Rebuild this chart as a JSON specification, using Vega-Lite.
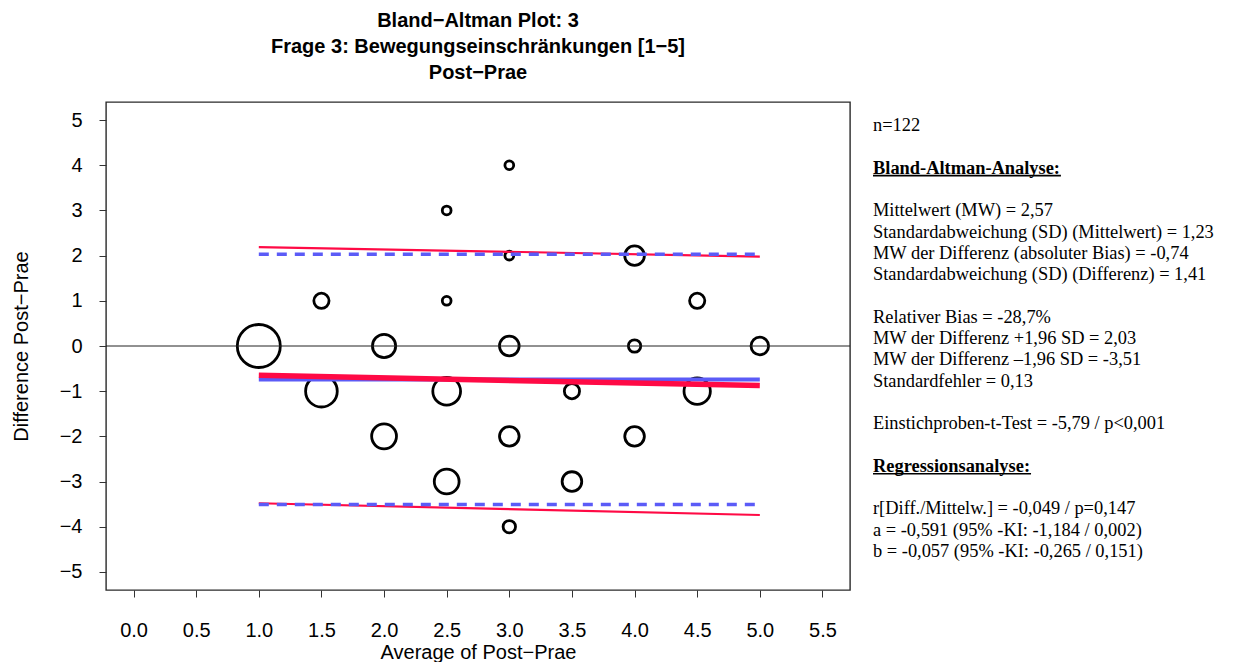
{
  "$schema": "https://vega.github.io/schema/vega-lite/v6.json",
  "padding": {"left": 10, "top": 10, "right": 0, "bottom": 0},
  "background": "white",
  "spacing": 23,
  "bounds": "flush",
  "config": {"view": {"stroke": null}, "font": "Liberation Sans"},
  "datasets": {
    "points": [
      {"average": 1.0, "difference": 0, "n": 24},
      {"average": 1.5, "difference": 1, "n": 3},
      {"average": 1.5, "difference": -1, "n": 13},
      {"average": 2.0, "difference": 0, "n": 7},
      {"average": 2.0, "difference": -2, "n": 8},
      {"average": 2.5, "difference": 3, "n": 1},
      {"average": 2.5, "difference": 1, "n": 1},
      {"average": 2.5, "difference": -1, "n": 10},
      {"average": 2.5, "difference": -3, "n": 8},
      {"average": 3.0, "difference": 4, "n": 1},
      {"average": 3.0, "difference": 2, "n": 1},
      {"average": 3.0, "difference": 0, "n": 5},
      {"average": 3.0, "difference": -2, "n": 5},
      {"average": 3.0, "difference": -4, "n": 2},
      {"average": 3.5, "difference": -1, "n": 3},
      {"average": 3.5, "difference": -3, "n": 5},
      {"average": 4.0, "difference": 2, "n": 5},
      {"average": 4.0, "difference": 0, "n": 2},
      {"average": 4.0, "difference": -2, "n": 5},
      {"average": 4.5, "difference": 1, "n": 3},
      {"average": 4.5, "difference": -1, "n": 9},
      {"average": 5.0, "difference": 0, "n": 4}
    ],
    "lines": [
      {"series": "reg_upper", "average": 1, "difference": 2.19},
      {"series": "reg_upper", "average": 5, "difference": 1.98},
      {"series": "reg_lower", "average": 1, "difference": -3.48},
      {"series": "reg_lower", "average": 5, "difference": -3.74},
      {"series": "loa_upper", "average": 1, "difference": 2.03},
      {"series": "loa_upper", "average": 5, "difference": 2.03},
      {"series": "loa_lower", "average": 1, "difference": -3.51},
      {"series": "loa_lower", "average": 5, "difference": -3.51},
      {"series": "bias", "average": 1, "difference": -0.74},
      {"series": "bias", "average": 5, "difference": -0.74},
      {"series": "bias_reg", "average": 1, "difference": -0.648},
      {"series": "bias_reg", "average": 5, "difference": -0.876}
    ],
    "stats": [
      {"line": 0, "kind": "body", "text": "n=122"},
      {"line": 2, "kind": "heading", "text": "Bland-Altman-Analyse:"},
      {"line": 4, "kind": "body", "text": "Mittelwert (MW) = 2,57"},
      {"line": 5, "kind": "body", "text": "Standardabweichung (SD) (Mittelwert) = 1,23"},
      {"line": 6, "kind": "body", "text": "MW der Differenz (absoluter Bias) = -0,74"},
      {"line": 7, "kind": "body", "text": "Standardabweichung (SD) (Differenz) = 1,41"},
      {"line": 9, "kind": "body", "text": "Relativer Bias = -28,7%"},
      {"line": 10, "kind": "body", "text": "MW der Differenz +1,96 SD = 2,03"},
      {"line": 11, "kind": "body", "text": "MW der Differenz –1,96 SD = -3,51"},
      {"line": 12, "kind": "body", "text": "Standardfehler = 0,13"},
      {"line": 14, "kind": "body", "text": "Einstichproben-t-Test = -5,79 / p<0,001"},
      {"line": 16, "kind": "heading", "text": "Regressionsanalyse:"},
      {"line": 18, "kind": "body", "text": "r[Diff./Mittelw.] = -0,049 / p=0,147"},
      {"line": 19, "kind": "body", "text": "a = -0,591 (95% -KI: -1,184 / 0,002)"},
      {"line": 20, "kind": "body", "text": "b = -0,057 (95% -KI: -0,265 / 0,151)"}
    ]
  },
  "hconcat": [
    {
      "width": 744,
      "height": 488,
      "view": {"stroke": "#2a2a2a", "strokeWidth": 1.4},
      "title": {
        "text": ["Bland−Altman Plot: 3", "Frage 3: Bewegungseinschränkungen [1−5]", "Post−Prae"],
        "fontSize": 20,
        "fontWeight": "bold",
        "lineHeight": 26,
        "anchor": "middle",
        "frame": "group",
        "offset": 19,
        "font": "Liberation Sans",
        "color": "black"
      },
      "layer": [
        {
          "data": {"name": "points"},
          "mark": {"type": "point", "shape": "circle", "filled": false, "stroke": "black", "strokeWidth": 2.8, "opacity": 1},
          "encoding": {
            "x": {
              "field": "average", "type": "quantitative",
              "scale": {"domain": [-0.22, 5.72], "nice": false, "zero": false},
              "axis": {
                "values": [0, 0.5, 1, 1.5, 2, 2.5, 3, 3.5, 4, 4.5, 5, 5.5],
                "format": ".1f", "grid": false, "domain": false,
                "tickSize": 7, "tickColor": "#333", "tickWidth": 1,
                "labelFontSize": 20, "labelPadding": 23, "labelColor": "black",
                "labelFlush": false, "labelOverlap": false, "labelFont": "Liberation Sans",
                "title": "Average of Post−Prae", "titleFontSize": 20, "titleFontWeight": "normal",
                "titlePadding": 2, "titleColor": "black", "titleFont": "Liberation Sans"
              }
            },
            "y": {
              "field": "difference", "type": "quantitative",
              "scale": {"domain": [-5.4, 5.4], "nice": false, "zero": false},
              "axis": {
                "values": [-5, -4, -3, -2, -1, 0, 1, 2, 3, 4, 5],
                "format": "d", "grid": false, "domain": false,
                "tickSize": 7, "tickColor": "#333", "tickWidth": 1,
                "labelFontSize": 20, "labelPadding": 17, "labelColor": "black",
                "labelFlush": false, "labelOverlap": false, "labelFont": "Liberation Sans",
                "title": "Difference Post−Prae", "titleFontSize": 20, "titleFontWeight": "normal",
                "titlePadding": 28, "titleColor": "black", "titleFont": "Liberation Sans"
              }
            },
            "size": {
              "field": "n", "type": "quantitative",
              "scale": {"domain": [0, 24], "range": [0, 1850], "zero": true},
              "legend": null
            }
          }
        },
        {
          "data": {"values": [{"reference": 0}]},
          "mark": {"type": "rule", "color": "#222222", "strokeWidth": 1},
          "encoding": {"y": {"field": "reference", "type": "quantitative"}}
        },
        {
          "data": {"name": "lines"},
          "transform": [{"filter": {"field": "series", "oneOf": ["reg_upper", "reg_lower"]}}],
          "mark": {"type": "line", "color": "#ff0a45", "strokeWidth": 2.2},
          "encoding": {
            "x": {"field": "average", "type": "quantitative"},
            "y": {"field": "difference", "type": "quantitative"},
            "detail": {"field": "series", "type": "nominal"}
          }
        },
        {
          "data": {"name": "lines"},
          "transform": [{"filter": {"field": "series", "oneOf": ["loa_upper", "loa_lower"]}}],
          "mark": {"type": "line", "color": "#5b5bf7", "strokeWidth": 3.5, "strokeDash": [10, 8]},
          "encoding": {
            "x": {"field": "average", "type": "quantitative"},
            "y": {"field": "difference", "type": "quantitative"},
            "detail": {"field": "series", "type": "nominal"}
          }
        },
        {
          "data": {"name": "lines"},
          "transform": [{"filter": {"field": "series", "equal": "bias"}}],
          "mark": {"type": "line", "color": "#5b5bf7", "strokeWidth": 4},
          "encoding": {
            "x": {"field": "average", "type": "quantitative"},
            "y": {"field": "difference", "type": "quantitative"}
          }
        },
        {
          "data": {"name": "lines"},
          "transform": [{"filter": {"field": "series", "equal": "bias_reg"}}],
          "mark": {"type": "line", "color": "#ff0a45", "strokeWidth": 5.5},
          "encoding": {
            "x": {"field": "average", "type": "quantitative"},
            "y": {"field": "difference", "type": "quantitative"}
          }
        }
      ]
    },
    {
      "width": 360,
      "height": 488,
      "data": {"name": "stats"},
      "layer": [
        {
          "transform": [{"filter": {"field": "kind", "equal": "body"}}],
          "mark": {"type": "text", "align": "left", "baseline": "middle", "font": "Liberation Serif", "fontSize": 18.4, "color": "black"},
          "encoding": {
            "x": {"datum": 0, "type": "quantitative", "scale": {"domain": [0, 1], "nice": false, "zero": false}, "axis": null},
            "y": {"field": "line", "type": "quantitative", "scale": {"domain": [-1.08, 21.83], "reverse": true, "nice": false, "zero": false}, "axis": null},
            "text": {"field": "text", "type": "nominal"}
          }
        },
        {
          "transform": [{"filter": {"field": "kind", "equal": "heading"}}],
          "mark": {"type": "text", "align": "left", "baseline": "middle", "font": "Liberation Serif", "fontSize": 18.4, "fontWeight": "bold", "color": "black"},
          "encoding": {
            "x": {"datum": 0, "type": "quantitative"},
            "y": {"field": "line", "type": "quantitative"},
            "text": {"field": "text", "type": "nominal"}
          }
        },
        {
          "transform": [{"filter": {"field": "line", "equal": 2}}],
          "mark": {"type": "rule", "color": "black", "strokeWidth": 1.6, "yOffset": 8},
          "encoding": {
            "x": {"datum": 0, "type": "quantitative"},
            "x2": {"datum": 0.522},
            "y": {"field": "line", "type": "quantitative"}
          }
        },
        {
          "transform": [{"filter": {"field": "line", "equal": 16}}],
          "mark": {"type": "rule", "color": "black", "strokeWidth": 1.6, "yOffset": 8},
          "encoding": {
            "x": {"datum": 0, "type": "quantitative"},
            "x2": {"datum": 0.439},
            "y": {"field": "line", "type": "quantitative"}
          }
        }
      ]
    }
  ]
}
